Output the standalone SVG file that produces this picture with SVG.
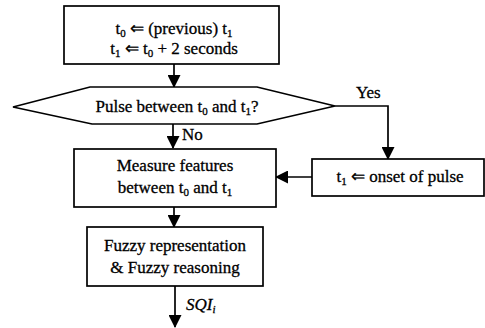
<svg xmlns="http://www.w3.org/2000/svg" width="485" height="328" viewBox="0 0 485 328">
<style>
.box{fill:#fff;stroke:#000;stroke-width:1.7}
.ln{fill:none;stroke:#000;stroke-width:1.7}
text{font-family:"Liberation Serif","Times New Roman",serif;font-size:17px;fill:#000;stroke:#000;stroke-width:0.3}
.c{text-anchor:middle}
.s{font-size:11px}
</style>
<defs>
<marker id="ah" markerWidth="13" markerHeight="13" refX="12" refY="6.5" orient="auto" markerUnits="userSpaceOnUse">
<path d="M0,0 L13,6.5 L0,13 Z" fill="#000"/>
</marker>
</defs>
<rect width="485" height="328" fill="#fff"/>
<g id="connectors">
<line class="ln" x1="174" y1="64" x2="174" y2="87" marker-end="url(#ah)"/>
<line class="ln" x1="173" y1="124" x2="173" y2="148" marker-end="url(#ah)"/>
<polyline class="ln" points="335,106 388,106 388,159" marker-end="url(#ah)"/>
<line class="ln" x1="312" y1="177" x2="276" y2="177" marker-end="url(#ah)"/>
<line class="ln" x1="174" y1="207" x2="174" y2="227" marker-end="url(#ah)"/>
<line class="ln" x1="175" y1="286" x2="175" y2="327" marker-end="url(#ah)"/>
<text x="356" y="98">Yes</text>
<text x="182" y="140">No</text>
<text x="186" y="310" font-style="italic">SQI<tspan class="s" dy="3">i</tspan></text>
</g>
<g id="n1">
<rect class="box" x="64" y="6" width="215" height="58"/>
<text x="174" y="34" class="c">t<tspan class="s" dy="3">0</tspan><tspan dy="-3"> ⇐ (previous) t</tspan><tspan class="s" dy="3">1</tspan></text>
<text x="174" y="54" class="c">t<tspan class="s" dy="3">1</tspan><tspan dy="-3"> ⇐ t</tspan><tspan class="s" dy="3">0</tspan><tspan dy="-3"> + 2 seconds</tspan></text>
</g>
<g id="n2">
<polygon class="box" points="13,107 90,87 257,87 335,106 257,124 92,124"/>
<text x="177" y="112" class="c">Pulse between t<tspan class="s" dy="3">0</tspan><tspan dy="-3"> and t</tspan><tspan class="s" dy="3">1</tspan><tspan dy="-3">?</tspan></text>
</g>
<g id="n3">
<rect class="box" x="74" y="149" width="202" height="58"/>
<text x="175" y="171" class="c">Measure features</text>
<text x="175" y="193" class="c">between t<tspan class="s" dy="3">0</tspan><tspan dy="-3"> and t</tspan><tspan class="s" dy="3">1</tspan></text>
</g>
<g id="n4">
<rect class="box" x="312" y="159" width="172" height="37"/>
<text x="400" y="182" class="c">t<tspan class="s" dy="3">1</tspan><tspan dy="-3"> ⇐ onset of pulse</tspan></text>
</g>
<g id="n5">
<rect class="box" x="87" y="227" width="176" height="59"/>
<text x="175" y="251" class="c">Fuzzy representation</text>
<text x="175" y="273" class="c">&amp; Fuzzy reasoning</text>
</g>
</svg>
